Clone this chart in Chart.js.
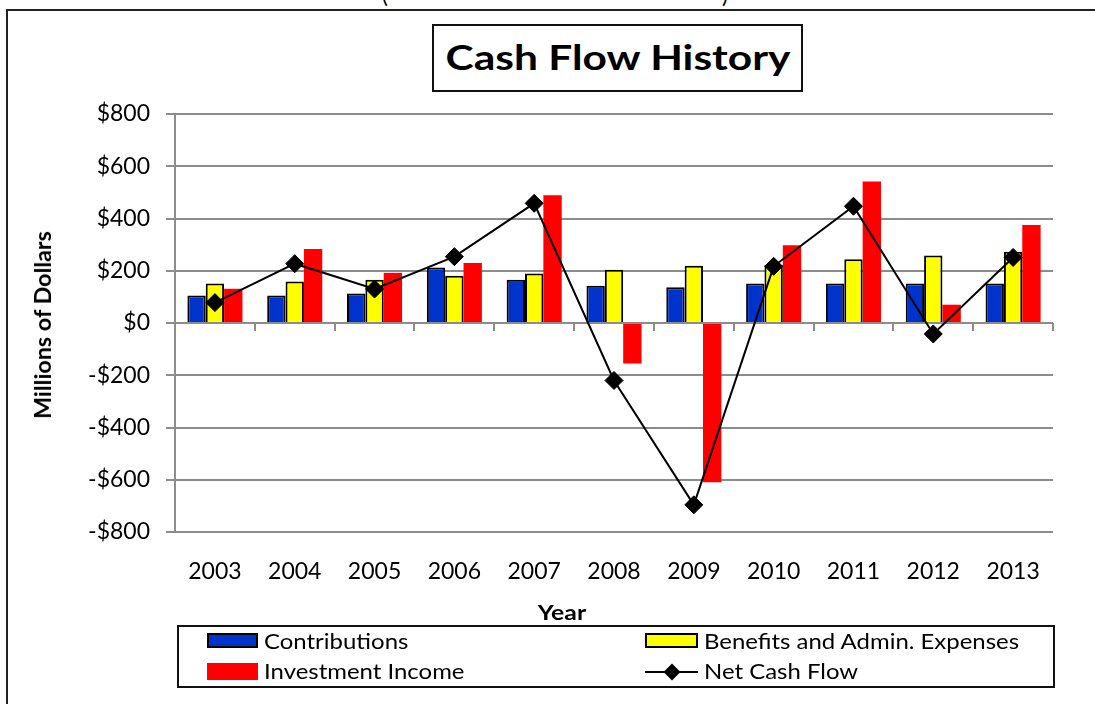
<!DOCTYPE html>
<html>
<head>
<meta charset="utf-8">
<script src="https://cdn.jsdelivr.net/npm/chart.js@4.4.1/dist/chart.umd.min.js"></script>
<style>
    html, body { margin: 0; padding: 0; background: #fff; }
    body { width: 1095px; height: 704px; position: relative; overflow: hidden; font-family: Lato, sans-serif; color: #000; }
    #frame { position: absolute; left: 6px; top: 9px; width: 1110px; height: 720px; border-left: 2px solid #222; border-top: 2px solid #222; }
    .cut { position: absolute; top: -17px; font-size: 22px; line-height: 24px; }
    #chartTitle { position: absolute; left: 432px; top: 24px; width: 371px; height: 68px; box-sizing: border-box;
        border: 2px solid #111; }
    #chartTitle span { position: absolute; left: 50%; top: 50%; transform: translate(-50%, -53%) scaleX(1.25);
        font-weight: bold; font-size: 34px; white-space: nowrap; }
    canvas { position: absolute; left: 0; top: 0; }
    .axisTitle { position: absolute; font-weight: bold; white-space: nowrap; line-height: 26px; }
    #legendBox { position: absolute; left: 177px; top: 625px; width: 878px; height: 63px; box-sizing: border-box; border: 2px solid #111; }
    .sw { position: absolute; box-sizing: border-box; }
    .lt { position: absolute; font-size: 21px; line-height: 24px; white-space: nowrap; transform: scaleX(1.14); transform-origin: 0 50%; }
</style>
</head>
<body>
<div id="frame"></div>
<span class="cut" style="left:382px">(</span>
<span class="cut" style="left:722px">)</span>
<div id="chartTitle"><span>Cash Flow History</span></div>
<canvas id="cashFlowChart" width="1095" height="704"></canvas>
<div class="axisTitle" style="left:43px; top:325px; font-size:22px; transform: translate(-50%, -50%) rotate(-90deg) scaleX(1.06);">Millions of Dollars</div>
<div class="axisTitle" style="left:562px; top:612px; font-size:21px; transform: translate(-50%, -50%) scaleX(1.18);">Year</div>

<div id="legendBox"></div>
<div class="sw" style="left:207px; top:633px; width:51px; height:15px; background:#0033cc; border:2px solid #000;"></div>
<div class="lt" style="left:264px; top:629px;">Contributions</div>
<div class="sw" style="left:207px; top:663px; width:51px; height:17px; background:#ff0000;"></div>
<div class="lt" style="left:264px; top:659px;">Investment Income</div>
<div class="sw" style="left:645px; top:633px; width:53px; height:15px; background:#ffff00; border:2px solid #000;"></div>
<div class="lt" style="left:704px; top:629px;">Benefits and Admin. Expenses</div>
<div class="sw" style="left:645px; top:671px; width:53px; height:2px; background:#000;"></div>
<div class="sw" style="left:666px; top:666px; width:12px; height:12px; background:#000; transform: rotate(45deg);"></div>
<div class="lt" style="left:704px; top:659px;">Net Cash Flow</div>

<script>
// Cash flow history, millions of dollars
const years = ['2003', '2004', '2005', '2006', '2007', '2008', '2009', '2010', '2011', '2012', '2013'];
const contributions = [105, 105, 113, 212, 166, 143, 137, 151, 151, 151, 151];
const benefits = [151, 159, 166, 181, 189, 204, 219, 222, 244, 258, 273];
const investmentIncome = [131, 283, 192, 230, 489, -155, -610, 298, 542, 70, 375];
const netCashFlow = [78, 227, 130, 254, 458, -220, -696, 217, 447, -42, 251];

const yMin = -800;
const yMax = 800;
const yStep = 200;

const GRID = '#8c8c8c';
const FONT = 'Lato';

function money(v) {
    return (v < 0 ? '-$' : '$') + Math.abs(v);
}

const ctx = document.getElementById('cashFlowChart');

new Chart(ctx, {
    type: 'bar',
    data: {
        labels: years,
        datasets: [
            {
                type: 'line',
                label: 'Net Cash Flow',
                data: netCashFlow,
                xAxisID: 'x',
                borderColor: '#000',
                borderWidth: 2,
                pointStyle: 'rectRot',
                pointRadius: 9,
                pointBackgroundColor: '#000',
                pointBorderColor: '#000',
                pointBorderWidth: 1,
                tension: 0,
                order: 0
            },
            {
                label: 'Contributions',
                data: contributions,
                xAxisID: 'x',
                backgroundColor: '#0033cc',
                borderColor: '#000',
                borderWidth: 2,
                order: 1
            },
            {
                label: 'Benefits and Admin. Expenses',
                data: benefits,
                xAxisID: 'x',
                backgroundColor: '#ffff00',
                borderColor: '#000',
                borderWidth: 2,
                order: 1
            },
            {
                label: 'Investment Income',
                data: investmentIncome,
                xAxisID: 'x',
                backgroundColor: '#ff0000',
                borderWidth: 0,
                order: 1
            }
        ]
    },
    options: {
        responsive: false,
        maintainAspectRatio: false,
        animation: false,
        datasets: {
            bar: { categoryPercentage: 0.69, barPercentage: 1.0 }
        },
        layout: {
            padding: { left: 0, top: 114, right: 42, bottom: 112 }
        },
        plugins: {
            legend: { display: false },
            title: { display: false },
            tooltip: { enabled: false }
        },
        scales: {
            y: {
                min: yMin,
                max: yMax,
                afterFit: s => { s.width = 175; },
                ticks: {
                    stepSize: yStep,
                    padding: 16,
                    color: '#000',
                    font: { family: FONT, size: 23 },
                    callback: v => money(v)
                },
                grid: { color: GRID, lineWidth: 2, tickLength: 9 },
                border: { color: GRID, width: 2 }
            },
            // axis drawn through zero, only tick marks
            x: {
                type: 'category',
                position: { y: 0 },
                offset: true,
                ticks: { display: false },
                grid: { offset: true, drawOnChartArea: false, drawTicks: true, tickLength: 8, color: GRID, lineWidth: 2 },
                border: { display: false }
            },
            // labels sit at the bottom, Excel "low" style
            x2: {
                type: 'category',
                position: 'bottom',
                offset: true,
                afterFit: s => { s.height = 60; },
                ticks: {
                    padding: 26,
                    color: '#000',
                    maxRotation: 0,
                    autoSkip: false,
                    font: { family: FONT, size: 23 }
                },
                grid: { display: false, drawTicks: false },
                border: { display: false }
            }
        }
    }
});
</script>
</body>
</html>
